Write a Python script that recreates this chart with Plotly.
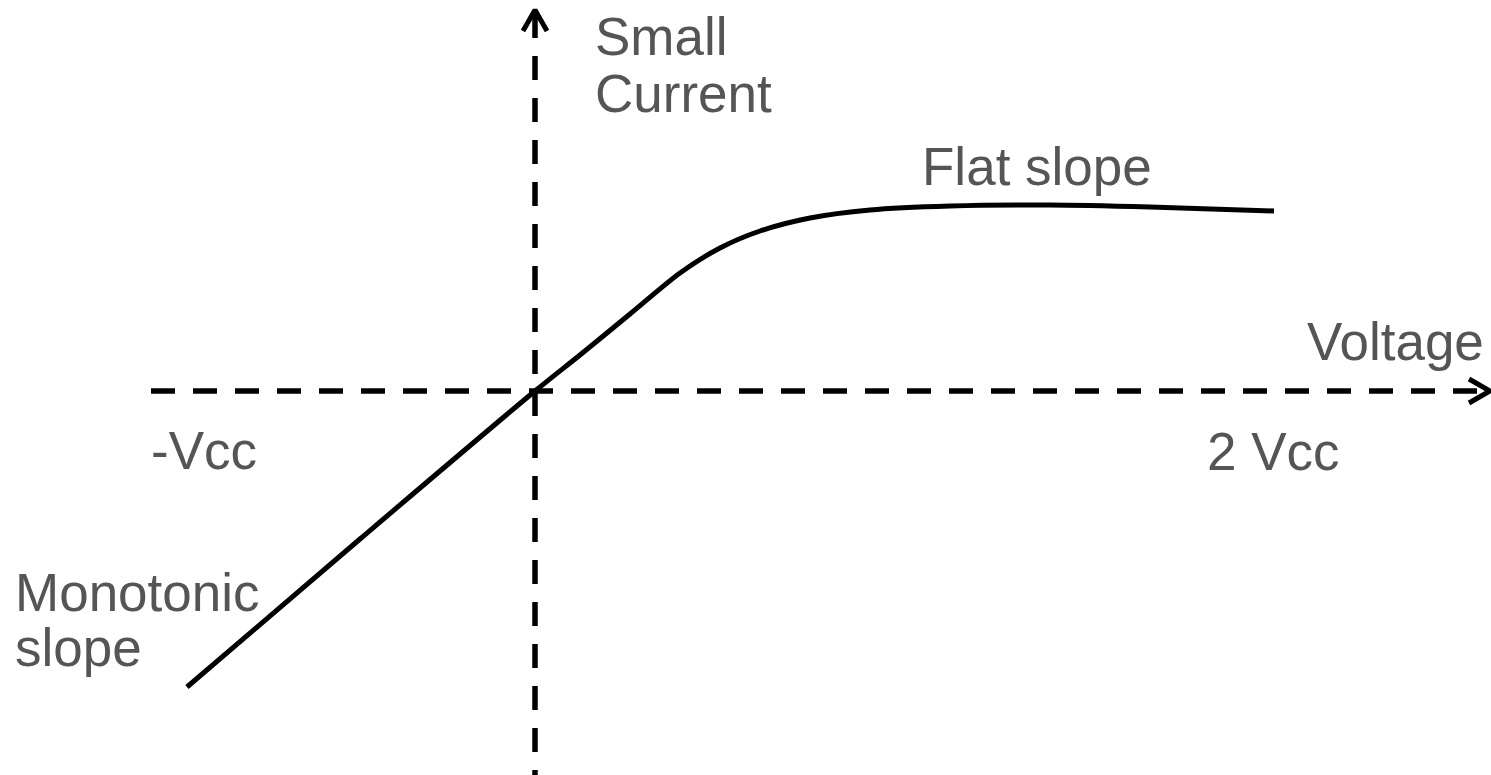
import plotly.graph_objects as go

# Curve data (arbitrary units, origin at axis crossing)
curve_x = [-3.48, -1.75, 0.0, 0.45, 0.95, 1.45, 1.85, 2.25, 2.75, 3.35, 4.15, 5.15, 6.15, 7.39]
curve_y = [-2.96, -1.48, 0.0, 0.36, 0.77, 1.18, 1.43, 1.60, 1.73, 1.81, 1.85, 1.86, 1.84, 1.80]

# Axis extents
x_axis_start, x_axis_end = -3.84, 9.55
y_axis_start, y_axis_end = 3.77, -3.90
y_arrow_tip = 3.81
arrow_len, arrow_half = 0.21, 0.12

# Tick labels on voltage axis
tick_labels = ["-Vcc", "2 Vcc"]
tick_x = [-3.86, 6.70]
tick_y = [-0.595, -0.60]

# Other text labels
label_text = ["Small", "Current", "Voltage", "Flat slope", "Monotonic", "slope"]
label_x = [0.58, 0.58, 7.70, 3.85, -5.22, -5.22]
label_y = [3.55, 2.975, 0.495, 2.25, -2.015, -2.563]

X_RANGE = [-5.35, 9.56]
Y_RANGE = [-3.84, 3.91]

AX_COLOR = "black"
TXT_COLOR = "#555555"
FONT = "Liberation Sans, Arial, sans-serif"
FS = 53

fig = go.Figure()

# dashed axes
fig.add_trace(go.Scatter(x=[x_axis_start, x_axis_end], y=[0, 0], mode="lines",
                         line=dict(color=AX_COLOR, width=5.5, dash="24px,18px"),
                         hoverinfo="skip", showlegend=False))
fig.add_trace(go.Scatter(x=[0, 0], y=[y_axis_start, y_axis_end], mode="lines",
                         line=dict(color=AX_COLOR, width=5.5, dash="24px,18px"),
                         hoverinfo="skip", showlegend=False))

# arrowheads (chevrons) derived from axis ends
fig.add_trace(go.Scatter(
    x=[x_axis_end - arrow_len, x_axis_end, x_axis_end - arrow_len],
    y=[arrow_half, 0, -arrow_half], mode="lines",
    line=dict(color=AX_COLOR, width=5), hoverinfo="skip", showlegend=False))
fig.add_trace(go.Scatter(
    x=[-arrow_half, 0, arrow_half],
    y=[y_arrow_tip - arrow_len, y_arrow_tip, y_arrow_tip - arrow_len], mode="lines",
    line=dict(color=AX_COLOR, width=5), hoverinfo="skip", showlegend=False))

# characteristic curve
fig.add_trace(go.Scatter(x=curve_x, y=curve_y, mode="lines",
                         line=dict(color="black", width=5, shape="spline", smoothing=0.8),
                         hoverinfo="skip", showlegend=False))

for t, x, y in zip(tick_labels + label_text, tick_x + label_x, tick_y + label_y):
    fig.add_annotation(x=x, y=y, text=t, showarrow=False, xanchor="left", yanchor="middle",
                       font=dict(family=FONT, size=FS, color=TXT_COLOR))

fig.update_xaxes(range=X_RANGE, visible=False, fixedrange=True)
fig.update_yaxes(range=Y_RANGE, visible=False, fixedrange=True)
fig.update_layout(width=1491, height=775, margin=dict(l=0, r=0, t=0, b=0),
                  plot_bgcolor="white", paper_bgcolor="white")

fig.write_html("out.html", config={"displayModeBar": False},
               post_script="document.body.style.margin='0';")
